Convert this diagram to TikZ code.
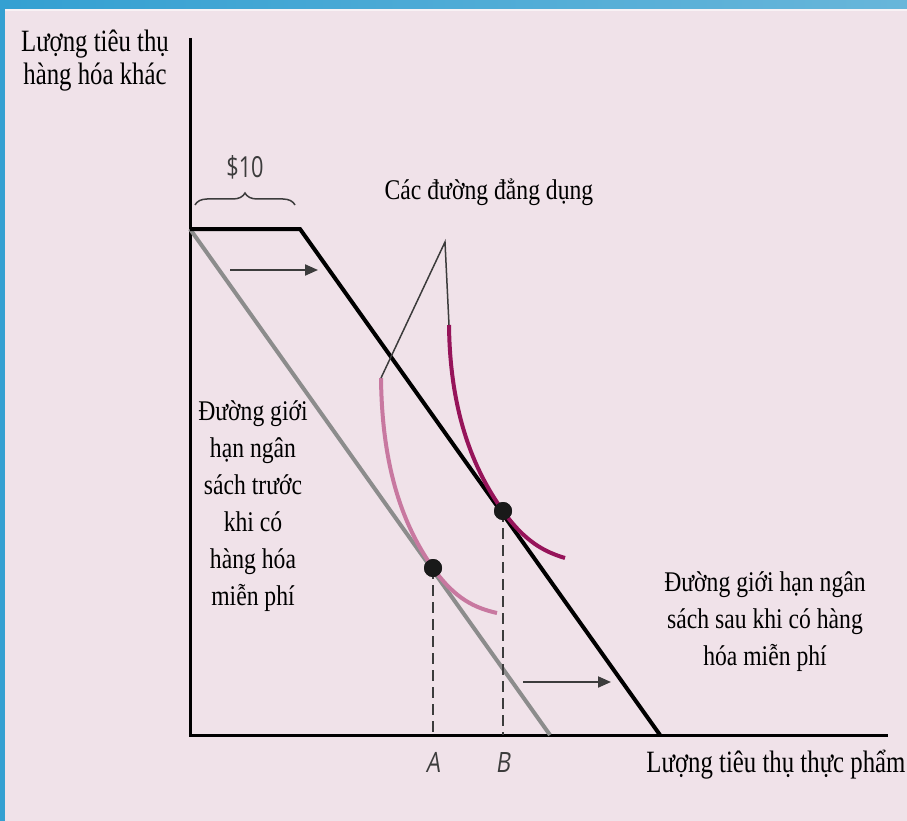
\documentclass[tikz,border=0pt]{standalone}
\usepackage{fontspec}
\setmainfont{Liberation Serif}
\newfontfamily\labelfont[FakeStretch=0.83]{Liberation Serif}
\newfontfamily\axisfont[FakeStretch=0.8]{Liberation Serif}
\newfontfamily\tagfont[FakeStretch=0.75]{Open Sans}
\newfontfamily\pointfont[FakeStretch=0.8,FakeSlant=0.15]{Open Sans}
\usetikzlibrary{arrows.meta,decorations.pathreplacing,positioning}
\definecolor{bgpink}{RGB}{240,226,233}
\definecolor{frameblue}{RGB}{52,160,210}
\definecolor{frameblueR}{RGB}{104,182,218}
\definecolor{oldgray}{RGB}{140,140,140}
\definecolor{rosecurve}{RGB}{200,120,160}
\definecolor{plumcurve}{RGB}{150,20,90}
\definecolor{inkgray}{RGB}{60,60,60}
\tikzset{
  axisline/.style={line width=3pt, black},
  oldbudget/.style={line width=4pt, oldgray},
  newbudget/.style={line width=4pt, black, line join=miter},
  shiftarrow/.style={-{Triangle[length=13pt,width=11pt]}, line width=2pt, inkgray},
  pointer/.style={line width=1.5pt, inkgray},
  indiff/.style={line width=4pt},
  dropline/.style={line width=2.2pt, inkgray, dash pattern=on 11pt off 6pt},
  optdot/.style={circle, fill=black!90, inner sep=0pt, minimum size=18pt},
  desc/.style={font=\labelfont\fontsize{28.5}{37}\selectfont, align=center, inner sep=0pt},
  axislabel/.style={font=\axisfont\fontsize{31}{33}\selectfont, align=center, inner sep=0pt},
  tag/.style={font=\tagfont\fontsize{29}{30}\selectfont, text=inkgray, inner sep=0pt},
  pointtag/.style={font=\pointfont\fontsize{28}{30}\selectfont, text=inkgray, inner sep=0pt}
}

\begin{document}
\begin{tikzpicture}[x=1pt, y=-1pt]

% ---------- Frame ----------
\useasboundingbox (0,0) rectangle (907,821);
\fill[bgpink] (0,0) rectangle (907,821);
\shade[left color=frameblue, right color=frameblueR] (0,0) rectangle (907,9);
\fill[white!55!bgpink] (5,9) rectangle (907,11);
\fill[frameblue] (0,0) rectangle (5,821);

% ---------- Axes ----------
\coordinate (O) at (190,735);
\coordinate (ytop) at (190,38);
\coordinate (xend) at (888,735);
\draw[axisline] (ytop) -- (O) -- (xend);

\node[axislabel] (ylab) at (95,61) {Lượng tiêu thụ\\hàng hóa khác};
\node[axislabel] (xlab) at (776,765) {Lượng tiêu thụ thực phẩm};

% ---------- Budget lines ----------
\coordinate (kink0) at (190,229);
\coordinate (kink1) at (300,229);
\coordinate (oldend) at (550,735);
\coordinate (newend) at (660,735);
\draw[oldbudget] (kink0) -- (oldend);
\draw[newbudget] (kink0) -- (kink1) -- (newend);

% brace for the free good
\draw[decorate, decoration={brace, amplitude=12pt}, line width=1.5pt, inkgray]
  (195,205) -- (295,205);
\node[tag] (ten) at (245,167) {\$10};

% shift arrows
\coordinate (upA) at (230,270);
\coordinate (upB) at (318,270);
\coordinate (loA) at (523,682);
\coordinate (loB) at (611,682);
\draw[shiftarrow] (upA) -- (upB);
\draw[shiftarrow] (loA) -- (loB);

% ---------- Indifference curves ----------
\coordinate (roseTop) at (381,378);
\coordinate (plumTop) at (449,325);
\node[optdot] (dotA) at (433,568) {};
\node[optdot] (dotB) at (503,511) {};

\draw[indiff, rosecurve] (roseTop) .. controls (382,470) and (404,527) .. (dotA.center)
  .. controls (455,599) and (475,608) .. (497,613);
\draw[indiff, plumcurve] (plumTop) .. controls (450,420) and (478,476) .. (dotB.center)
  .. controls (525,542) and (545,552) .. (565,558);

\node[desc] (curvelab) at (489,192) {Các đường đẳng dụng};
\coordinate (apex) at (445,242);
\draw[pointer] (roseTop) -- (apex) -- (plumTop);

% ---------- Optimal choices ----------
\coordinate (footA) at (433,735);
\coordinate (footB) at (503,735);
\draw[dropline] (dotA.center) -- (footA);
\draw[dropline] (dotB.center) -- (footB);
\node[optdot] at (dotA) {};
\node[optdot] at (dotB) {};
\node[pointtag] (labA) at (433,762) {A};
\node[pointtag] (labB) at (503,762) {B};

% ---------- Budget labels ----------
\node[desc] (oldlab) at (253,506)
  {Đường giới\\hạn ngân\\sách trước\\khi có\\hàng hóa\\miễn phí};
\node[desc] (newlab) at (765,622)
  {Đường giới hạn ngân\\sách sau khi có hàng\\hóa miễn phí};

\end{tikzpicture}
\end{document}
